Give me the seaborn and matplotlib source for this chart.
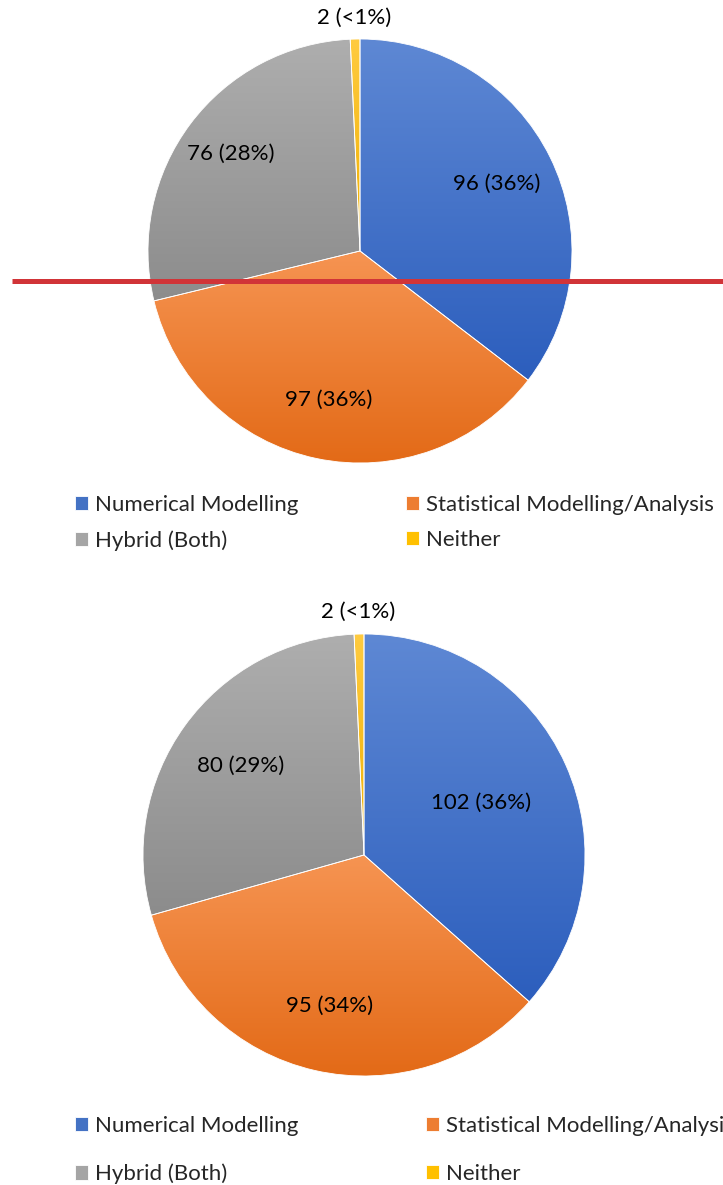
import numpy as np
import matplotlib
matplotlib.use("Agg")
import matplotlib.pyplot as plt
import seaborn as sns
from matplotlib.colors import LinearSegmentedColormap
from matplotlib.lines import Line2D

# ---- data ----
categories = ["Numerical Modelling", "Statistical Modelling/Analysis", "Hybrid (Both)", "Neither"]
values_top = [96, 97, 76, 2]
labels_top = ["96 (36%)", "97 (36%)", "76 (28%)", "2 (<1%)"]
values_bottom = [102, 95, 80, 2]
labels_bottom = ["102 (36%)", "95 (34%)", "80 (29%)", "2 (<1%)"]

# ---- style ----
sns.set_theme(style="white")
plt.rcParams["font.family"] = ["Lato", "DejaVu Sans"]

W, H = 723, 1185
FS = 16
fig = plt.figure(figsize=(W / 100, H / 100), dpi=100)

solid = ["#4472C4", "#ED7D31", "#A5A5A5", "#FFC000"]
grad_top = ["#5E88D4", "#F69452", "#AEAEAE", "#FFCB40"]
grad_bot = ["#2C5EBD", "#E36A17", "#8C8C8C", "#EFAF00"]


def draw_pie(cx, cy, r, values, labels, label_r, leg_x, leg_y, colspace, rowspace):
    ax = fig.add_axes([(cx - r) / W, 1 - (cy + r) / H, 2 * r / W, 2 * r / H])
    wedges, texts = ax.pie(
        values, labels=labels, startangle=90, counterclock=False,
        colors=solid, labeldistance=0.73,
        wedgeprops=dict(edgecolor="white", linewidth=0.6),
        textprops=dict(fontsize=FS, color="black"),
    )
    for i, (w, t) in enumerate(zip(wedges, texts)):
        th = np.deg2rad((w.theta1 + w.theta2) / 2)
        t.set_position((label_r[i] * np.cos(th), label_r[i] * np.sin(th)))
        t.set_ha("center")
        t.set_va("center")
    order = [0, 2, 1, 3]
    ax.legend([wedges[i] for i in order], [categories[i] for i in order],
              ncol=2, loc="upper left",
              bbox_to_anchor=(leg_x / W, 1 - leg_y / H), bbox_transform=fig.transFigure,
              frameon=False, fontsize=FS, handlelength=0.6, handleheight=0.6,
              handletextpad=0.3, columnspacing=colspace, labelspacing=rowspace,
              borderpad=0, borderaxespad=0)
    for i, w in enumerate(wedges):
        x0, y0, x1, y1 = w.get_path().get_extents().extents
        cmap = LinearSegmentedColormap.from_list("g", [grad_bot[i], grad_top[i]])
        grad = np.linspace(1, 0, 256).reshape(-1, 1)
        im = ax.imshow(grad, extent=[x0, x1, y0, y1], origin="upper", cmap=cmap,
                       vmin=0, vmax=1, aspect="auto", interpolation="bilinear",
                       zorder=0.9)
        im.set_clip_path(w)
        w.set_facecolor("none")
    ax.set_xlim(-1, 1)
    ax.set_ylim(-1, 1)
    ax.set_aspect("auto")
    ax.axis("off")
    return ax


draw_pie(360, 251, 212, values_top, labels_top, [0.72, 0.72, 0.76, 1.10],
         75, 495, 4.84, 0.68)
draw_pie(364, 855, 221, values_bottom, labels_bottom, [0.58, 0.70, 0.69, 1.10],
         75, 1116, 5.75, 1.25)

fig.add_artist(Line2D([12 / W, 1.0], [1 - 281 / H] * 2, transform=fig.transFigure,
                      color="#D13438", linewidth=3.6, zorder=10,
                      solid_capstyle="butt"))

fig.savefig("out.png", dpi=100, facecolor="white")
